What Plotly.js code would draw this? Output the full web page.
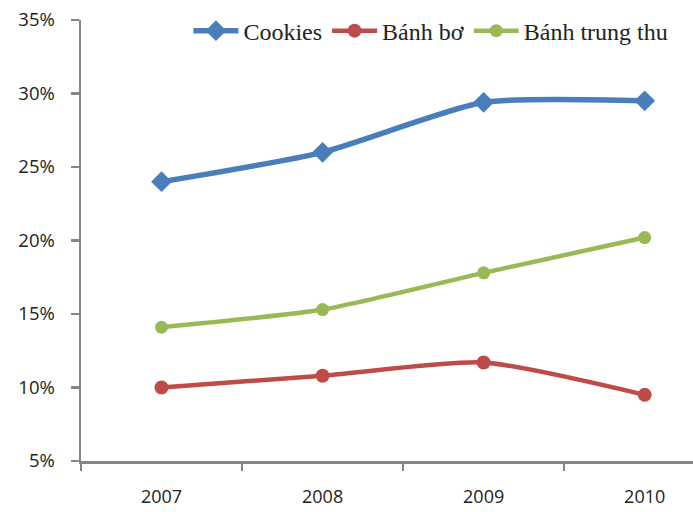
<!DOCTYPE html>
<html>
<head>
<meta charset="utf-8">
<script src="https://cdn.plot.ly/plotly-3.0.1.min.js"></script>
<style>html,body{margin:0;padding:0;overflow:hidden;background:#fff;}</style>
</head>
<body>
<div id="chart" style="width:693px;height:512px;"></div>
<script>
const years = ['2007', '2008', '2009', '2010'];
const cookies = [24.0, 26.0, 29.4, 29.5];
const banhBo = [10.0, 10.8, 11.7, 9.5];
const banhTrungThu = [14.1, 15.3, 17.8, 20.2];
const seriesNames = ['Cookies', 'Bánh bơ', 'Bánh trung thu'];
const yTicks = [5, 10, 15, 20, 25, 30, 35];

const traces = [
  {x: years, y: cookies, name: seriesNames[0], type: 'scatter', mode: 'lines+markers',
   line: {color: '#4A7EBB', width: 5.5, shape: 'spline', smoothing: 0.6},
   marker: {symbol: 'diamond', size: 16, color: '#4A7EBB'}},
  {x: years, y: banhBo, name: seriesNames[1], type: 'scatter', mode: 'lines+markers',
   line: {color: '#BE4B48', width: 4.5, shape: 'spline', smoothing: 0.6},
   marker: {symbol: 'circle', size: 14, color: '#BE4B48'}},
  {x: years, y: banhTrungThu, name: seriesNames[2], type: 'scatter', mode: 'lines+markers',
   line: {color: '#98B954', width: 4.5, shape: 'spline', smoothing: 0.6},
   marker: {symbol: 'circle', size: 13, color: '#98B954'}}
];

const layout = {
  width: 693, height: 512,
  margin: {l: 81, r: 0, t: 20, b: 51},
  paper_bgcolor: '#fff', plot_bgcolor: '#fff',
  showlegend: true,
  legend: {orientation: 'h', x: 0.968, xanchor: 'right', y: 0.975, yanchor: 'middle',
           font: {family: 'Liberation Serif, serif', size: 24, color: '#222'},
           itemwidth: 45, tracegroupgap: 0, bgcolor: 'rgba(0,0,0,0)'},
  xaxis: {type: 'category', range: [-0.5, 3.3], showgrid: false, zeroline: false,
          showline: true, linecolor: '#868686', linewidth: 2.5,
          ticks: 'outside', tickson: 'boundaries', ticklen: 7, tickwidth: 2.5, tickcolor: '#868686',
          ticklabelstandoff: 18,
          tickfont: {family: 'Open Sans, sans-serif', size: 18, color: '#222'}},
  yaxis: {range: [5, 35], tickvals: yTicks, ticktext: yTicks.map(v => v + '%'),
          showgrid: false, zeroline: false, showline: true, linecolor: '#868686', linewidth: 2.5,
          ticks: 'outside', ticklen: 8, tickwidth: 2.5, tickcolor: '#868686',
          ticklabelstandoff: 12,
          tickfont: {family: 'Open Sans, sans-serif', size: 18.5, color: '#222'}}
};

Plotly.newPlot('chart', traces, layout, {displayModeBar: false, staticPlot: true});
</script>
</body>
</html>
